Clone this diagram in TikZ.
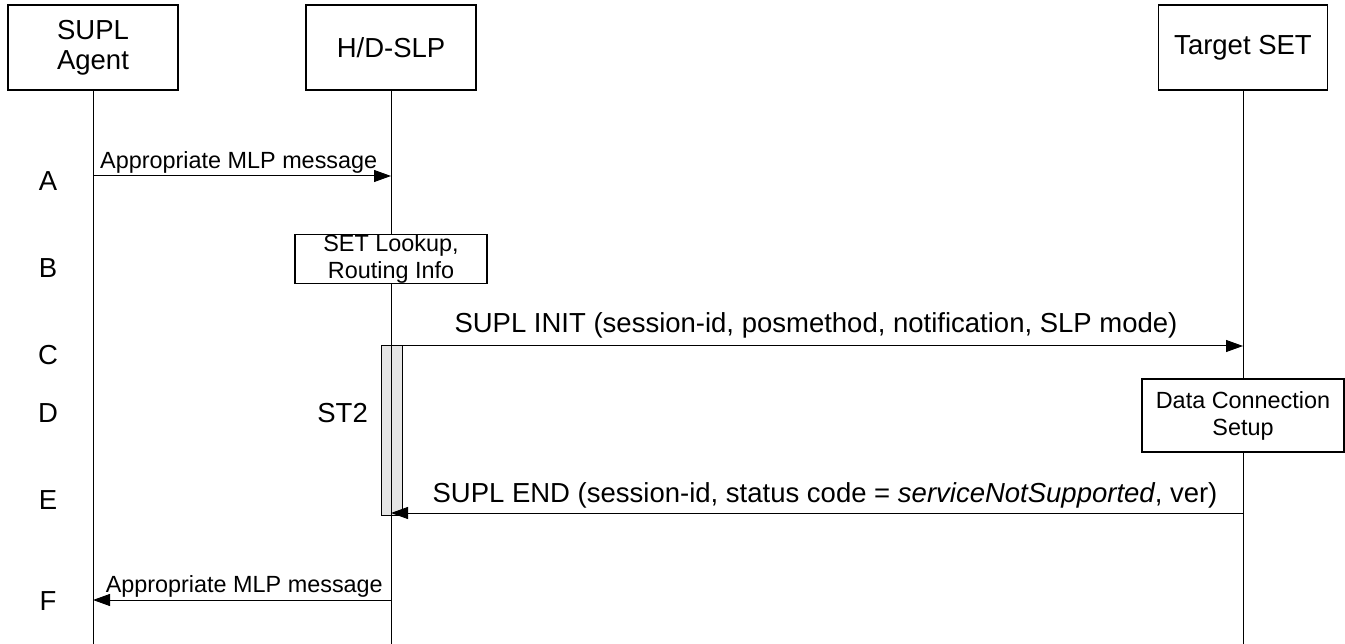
\documentclass[tikz,border=0pt]{standalone}
\usepackage{fontspec}
\setmainfont{Liberation Sans}
\usetikzlibrary{arrows.meta}
\newcommand{\bigf}{\fontsize{27.5}{30}\selectfont}
\newcommand{\smallf}{\fontsize{23.4}{27}\selectfont}
\tikzset{
  actor/.style={draw, line width=1.1pt, minimum width=170pt, minimum height=85pt, align=center, font=\bigf, inner sep=0pt},
  procbox/.style={draw, line width=1.1pt, align=center, font=\smallf, inner sep=0pt},
  life/.style={line width=1pt},
  msg/.style={line width=1pt, -{Triangle[length=17pt,width=12pt]}},
  lbl/.style={font=\bigf, inner sep=0pt},
  mlbl/.style={font=\smallf, inner sep=0pt, anchor=base},
  big/.style={font=\bigf, inner sep=0pt, anchor=base}
}
\begin{document}
\begin{tikzpicture}[x=1pt,y=-1pt]
\useasboundingbox (0,0) rectangle (1345,644);
% actors
\node[actor] (agent) at (93,47.5) {SUPL\\Agent};
\node[actor] (slp) at (391,47.5) {H/D-SLP};
\node[actor, minimum width=169pt] (set) at (1243,47.5) {Target SET};
% lifeline end coordinates
\coordinate (agentEnd) at (93,644);
\coordinate (slpEnd) at (391,644);
\coordinate (setEnd) at (1243,644);
% process boxes
\node[procbox, minimum width=192pt, minimum height=48pt] (lookup) at (391,259) {SET Lookup,\\Routing Info};
\node[procbox, minimum width=202pt, minimum height=73pt] (dcs) at (1243,415.5) {Data Connection\\Setup};
% lifelines
\draw[life] (agent.south) -- (agentEnd);
\draw[life] (slp.south) -- (lookup.north);
\draw[life] (lookup.south) -- (slpEnd);
\draw[life] (set.south) -- (dcs.north);
\draw[life] (dcs.south) -- (setEnd);
% timer bar
\node[draw, fill=black!10, line width=1pt, minimum width=21pt, minimum height=169pt, inner sep=0pt] (st2bar) at (391.5,430.5) {};
\draw[life] (st2bar.north -| slpEnd) -- (st2bar.south -| slpEnd);
\node[big, anchor=base east] (st2) at (368,422) {ST2};
% row letters
\node[lbl] (la) at (48,181) {A};
\node[lbl] (lb) at (48,268) {B};
\node[lbl] (lc) at (48,355) {C};
\node[lbl] (ld) at (48,413) {D};
\node[lbl] (le) at (48,500) {E};
\node[lbl] (lf) at (48,601) {F};
% messages
\coordinate (a1) at (93,176);
\coordinate (a2) at (391,176);
\draw[msg] (a1) -- (a2);
\node[mlbl, anchor=base west] (ma) at (100,169) {Appropriate MLP message};

\coordinate (c1) at (391,346);
\coordinate (c2) at (1243,346);
\draw[msg] (c1) -- (c2);
\node[big] (mc) at (816,333) {SUPL INIT (session-id, posmethod, notification, SLP mode)};

\coordinate (e1) at (1243,513);
\coordinate (e2) at (391,513);
\draw[msg] (e1) -- (e2);
\node[big] (me) at (825,502) {SUPL END (session-id, status code = \textit{serviceNotSupported}, ver)};

\coordinate (f1) at (391,600);
\coordinate (f2) at (93,600);
\draw[msg] (f1) -- (f2);
\node[mlbl, anchor=base east] (mf) at (383,592) {Appropriate MLP message};
\end{tikzpicture}
\end{document}
